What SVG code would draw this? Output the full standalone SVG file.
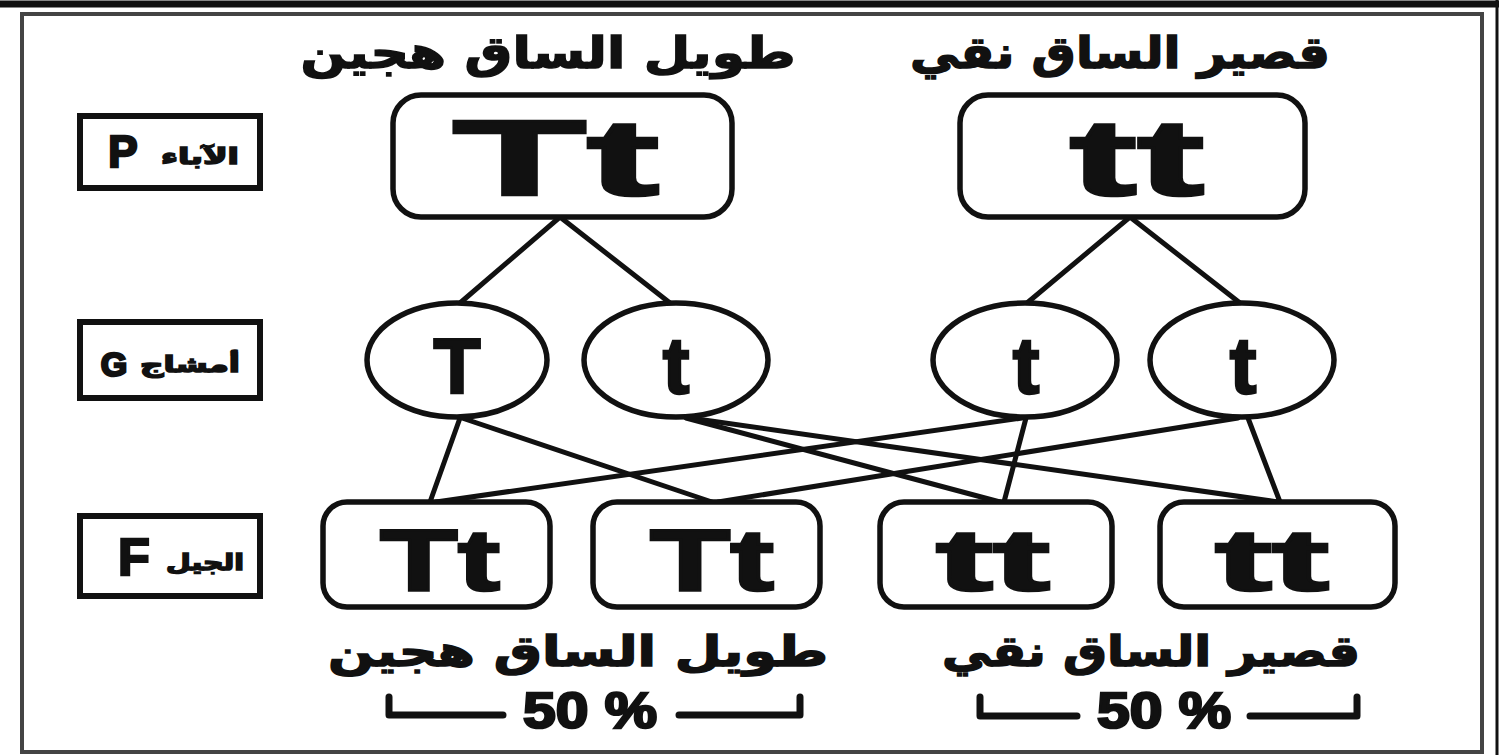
<svg xmlns="http://www.w3.org/2000/svg" width="1504" height="755" viewBox="0 0 1504 755">
<style>
.box{fill:#fff;stroke:#111;stroke-width:5.5}
.lbl{fill:#fff;stroke:#111;stroke-width:6}
.gam{fill:#fff;stroke:#111;stroke-width:5.5}
.ln{stroke:#111;stroke-width:5;fill:none;stroke-linecap:round}
.br{stroke:#111;stroke-width:7;fill:none;stroke-linejoin:round;stroke-linecap:round}
.lat{font-family:"Liberation Sans",Arial,sans-serif;font-weight:bold;fill:#111;stroke:#111;stroke-width:2.5;text-anchor:middle}
.ar{font-family:"DejaVu Sans",sans-serif;font-weight:bold;fill:#111;stroke:#111;stroke-width:1.5;text-anchor:middle}
</style>
<rect x="0" y="0" width="1504" height="755" fill="#fff"/>
<g id="page-frame">
<line x1="0" y1="4" x2="1499" y2="4" stroke="#111" stroke-width="7"/>
<line x1="1497" y1="0" x2="1497" y2="755" stroke="#111" stroke-width="3"/>
<rect x="22" y="14" width="1460" height="738" fill="none" stroke="#444" stroke-width="4"/>
</g>
<g id="connectors">
<line class="ln" x1="560" y1="217" x2="460" y2="303"/>
<line class="ln" x1="560" y1="217" x2="670" y2="303"/>
<line class="ln" x1="1130" y1="217" x2="1027" y2="303"/>
<line class="ln" x1="1130" y1="217" x2="1240" y2="303"/>
<line class="ln" x1="460" y1="418" x2="430" y2="502"/>
<line class="ln" x1="462" y1="418" x2="712" y2="502"/>
<line class="ln" x1="686" y1="418" x2="1000" y2="502"/>
<line class="ln" x1="690" y1="418" x2="1278" y2="502"/>
<line class="ln" x1="1022" y1="418" x2="436" y2="502"/>
<line class="ln" x1="1026" y1="418" x2="1004" y2="502"/>
<line class="ln" x1="1238" y1="418" x2="718" y2="502"/>
<line class="ln" x1="1248" y1="418" x2="1280" y2="502"/>
</g>
<g id="label-P">
<rect class="lbl" x="80" y="116" width="180" height="72"/>
<text class="lat" x="123" y="167" font-size="44">P</text>
<text class="ar" x="200" y="164" font-size="22" textLength="78" lengthAdjust="spacingAndGlyphs">الآباء</text>
</g>
<g id="label-G">
<rect class="lbl" x="80" y="322" width="180" height="76"/>
<text class="lat" x="114" y="376" font-size="34">G</text>
<text class="ar" x="190" y="372" font-size="22" textLength="100" lengthAdjust="spacingAndGlyphs">أمشاج</text>
</g>
<g id="label-F">
<rect class="lbl" x="80" y="516" width="180" height="80"/>
<text class="lat" x="134" y="575" font-size="52">F</text>
<text class="ar" x="205" y="570" font-size="22" textLength="78" lengthAdjust="spacingAndGlyphs">الجيل</text>
</g>
<g id="title-left">
<text class="ar" x="548" y="68" font-size="44" textLength="495" lengthAdjust="spacingAndGlyphs">طويل الساق هجين</text>
</g>
<g id="title-right">
<text class="ar" x="1120" y="68" font-size="44" textLength="420" lengthAdjust="spacingAndGlyphs">قصير الساق نقي</text>
</g>
<g id="parent-Tt">
<rect class="box" x="393" y="95" width="339" height="122" rx="28"/>
<text class="lat" x="556" y="195" font-size="108" stroke-width="4" textLength="207" lengthAdjust="spacingAndGlyphs">Tt</text>
</g>
<g id="parent-tt">
<rect class="box" x="960" y="95" width="345" height="122" rx="28"/>
<text class="lat" x="1137" y="195" font-size="108" stroke-width="4" textLength="135" lengthAdjust="spacingAndGlyphs">tt</text>
</g>
<g id="gamete-T">
<ellipse class="gam" cx="457" cy="360" rx="90" ry="57"/>
<text class="lat" x="457" y="393" font-size="77" stroke-width="3">T</text>
</g>
<g id="gamete-t1">
<ellipse class="gam" cx="676" cy="360" rx="92" ry="57"/>
<text class="lat" x="676" y="393" font-size="80" stroke-width="3">t</text>
</g>
<g id="gamete-t2">
<ellipse class="gam" cx="1025" cy="360" rx="92" ry="57"/>
<text class="lat" x="1026" y="393" font-size="80" stroke-width="3">t</text>
</g>
<g id="gamete-t3">
<ellipse class="gam" cx="1242" cy="360" rx="92" ry="57"/>
<text class="lat" x="1243" y="393" font-size="80" stroke-width="3">t</text>
</g>
<g id="f1-1">
<rect class="box" x="323" y="502" width="227" height="105" rx="24"/>
<text class="lat" x="440" y="590" font-size="88" stroke-width="3" textLength="120" lengthAdjust="spacingAndGlyphs">Tt</text>
</g>
<g id="f1-2">
<rect class="box" x="593" y="502" width="227" height="105" rx="24"/>
<text class="lat" x="712" y="590" font-size="88" stroke-width="3" textLength="124" lengthAdjust="spacingAndGlyphs">Tt</text>
</g>
<g id="f1-3">
<rect class="box" x="880" y="502" width="232" height="105" rx="24"/>
<text class="lat" x="993" y="590" font-size="88" stroke-width="3" textLength="114" lengthAdjust="spacingAndGlyphs">tt</text>
</g>
<g id="f1-4">
<rect class="box" x="1160" y="502" width="235" height="105" rx="24"/>
<text class="lat" x="1272" y="590" font-size="88" stroke-width="3" textLength="114" lengthAdjust="spacingAndGlyphs">tt</text>
</g>
<g id="result-left">
<text class="ar" x="578" y="666" font-size="42" textLength="500" lengthAdjust="spacingAndGlyphs">طويل الساق هجين</text>
<polyline class="br" points="389,697 389,715 503,715"/>
<text class="lat" x="590" y="728" font-size="50" textLength="134" lengthAdjust="spacingAndGlyphs">50 %</text>
<polyline class="br" points="679,715 800,715 800,697"/>
</g>
<g id="result-right">
<text class="ar" x="1151" y="666" font-size="42" textLength="418" lengthAdjust="spacingAndGlyphs">قصير الساق نقي</text>
<polyline class="br" points="980,697 980,716 1077,716"/>
<text class="lat" x="1164" y="728" font-size="50" textLength="134" lengthAdjust="spacingAndGlyphs">50 %</text>
<polyline class="br" points="1250,716 1357,716 1357,697"/>
</g>
</svg>
